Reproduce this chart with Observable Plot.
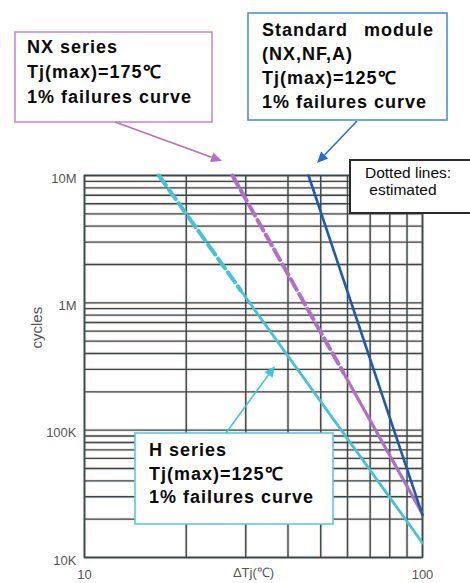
<!DOCTYPE html>
<html><head><meta charset="utf-8">
<script src="https://cdn.jsdelivr.net/npm/d3@7"></script>
<script src="https://cdn.jsdelivr.net/npm/@observablehq/plot@0.6"></script>
<style>body{margin:0;background:#fff;} #chart{width:470px;height:583px;}</style>
</head><body><div id="chart"></div>
<script>
// ---- data ----
const xTicks = [10, 100];
const xTickLabels = ["10", "100"];
const yTicks = [1e4, 1e5, 1e6, 1e7];
const yTickLabels = ["10K", "100K", "1M", "10M"];
const gridX = [10, 20, 30, 40, 50, 60, 70, 80, 90, 100];
const gridMultipliers = [1, 2, 3, 4, 5, 6, 7, 8, 9];
const gridDecades = [1e4, 1e5, 1e6];
const gridY = gridDecades.flatMap(d => gridMultipliers.map(m => d * m)).concat([1e7]);

// Standard module (NX,NF,A) Tj(max)=125℃ – solid
const stdDT = [46, 100];
const stdCycles = [1e7, 2.15e4];
// NX series Tj(max)=175℃ – estimated (dashed) and measured (solid)
const nxEstDT = [27.4, 58.3];
const nxEstCycles = [1e7, 2.84e5];
const nxDT = [58.3, 100];
const nxCycles = [2.84e5, 2.2e4];
// H series Tj(max)=125℃ – estimated (dashed) and measured (solid)
const hEstDT = [16.6, 29];
const hEstCycles = [1e7, 1.25e6];
const hDT = [29, 100];
const hCycles = [1.25e6, 1.3e4];

const cyan = "#44c2d6", purple = "#b070c8", blue = "#1d5bb0";
const gridDark = "#2b4a52", gridHalo = "#fbe3db";

const plot = Plot.plot({
  width: 470, height: 583,
  marginLeft: 84, marginRight: 48, marginTop: 175, marginBottom: 26,
  x: {type: "log", domain: [10, 100]},
  y: {type: "log", domain: [1e4, 1e7]},
  style: {fontFamily: "'Liberation Sans', Arial, sans-serif", background: "white", overflow: "visible"},
  marks: [
    Plot.ruleX(gridX, {stroke: gridHalo, strokeWidth: 3.4}),
    Plot.ruleY(gridY, {stroke: gridHalo, strokeWidth: 3.4}),
    Plot.ruleX(gridX, {stroke: gridDark, strokeWidth: 1.4}),
    Plot.ruleY(gridY, {stroke: gridDark, strokeWidth: 1.4}),
    Plot.frame({stroke: gridDark, strokeWidth: 1.5}),
    Plot.line(hEstDT, {x: hEstDT, y: hEstCycles, stroke: cyan, strokeWidth: 4, strokeDasharray: "12,5"}),
    Plot.line(hDT, {x: hDT, y: hCycles, stroke: cyan, strokeWidth: 2.8}),
    Plot.line(nxEstDT, {x: nxEstDT, y: nxEstCycles, stroke: purple, strokeWidth: 4, strokeDasharray: "12,5"}),
    Plot.line(nxDT, {x: nxDT, y: nxCycles, stroke: purple, strokeWidth: 3.2}),
    Plot.line(stdDT, {x: stdDT, y: stdCycles, stroke: blue, strokeWidth: 2.6}),
    Plot.axisX(xTicks, {tickFormat: d => xTickLabels[xTicks.indexOf(d)], tickSize: 0, tickPadding: 12,
      fontSize: 13, fill: "#555", label: "ΔTj(℃)", labelAnchor: "center", labelOffset: 19, labelArrow: "none"}),
    Plot.axisY(yTicks, {tickFormat: d => yTickLabels[yTicks.indexOf(d)], tickSize: 0, tickPadding: 8,
      fontSize: 13, fill: "#555", dy: 3, label: null}),
    Plot.text(["cycles"], {frameAnchor: "left", rotate: -90, dx: -47, dy: -18, fontSize: 15, fill: "#555"})
  ]
});
document.getElementById("chart").appendChild(plot);

// ---- annotation boxes & arrows ----
const svg = d3.select(plot);
const ann = svg.append("g").attr("font-family", "'Liberation Sans', Arial, sans-serif").attr("text-anchor", "start");
function box(x, y, w, h, stroke, sw) {
  ann.append("rect").attr("x", x).attr("y", y).attr("width", w).attr("height", h)
    .attr("fill", "white").attr("stroke", stroke).attr("stroke-width", sw);
}
function lines(x, ys, texts, size, weight, stretch) {
  texts.forEach((t, i) => ann.append("text").attr("x", x).attr("y", ys[i]).attr("font-size", size)
    .attr("font-weight", weight).attr("fill", "#0a0a0a").attr("text-anchor", "start")
    .attr("letter-spacing", stretch || 0).text(t));
}
function arrow(x1, y1, x2, y2, color) {
  const a = Math.atan2(y2 - y1, x2 - x1), L = 11, W = 5;
  const bx = x2 - L * Math.cos(a), by = y2 - L * Math.sin(a);
  ann.append("line").attr("x1", x1).attr("y1", y1).attr("x2", bx).attr("y2", by)
    .attr("stroke", color).attr("stroke-width", 1.6);
  ann.append("path").attr("fill", color).attr("d",
    `M${x2},${y2}L${bx + W * Math.sin(a)},${by - W * Math.cos(a)}L${bx - W * Math.sin(a)},${by + W * Math.cos(a)}Z`);
}
box(15, 32, 197, 90, "#c98bd2", 1.6);
lines(27, [53, 78, 103], ["NX series", "Tj(max)=175℃", "1% failures curve"], 18, "bold", 1);
box(248, 13, 199, 107, "#4a8fdc", 1.6);
lines(262, [36, 60, 84, 108], ["Standard", "(NX,NF,A)", "Tj(max)=125℃", "1% failures curve"], 18, "bold", 1);
ann.append("text").attr("x", 434).attr("y", 36).attr("text-anchor", "end").attr("font-size", 18)
  .attr("font-weight", "bold").attr("fill", "#0a0a0a").attr("letter-spacing", 1).text("module");
arrow(115, 122, 222, 161, "#b56fc6");
arrow(357, 121, 317, 163, "#2a6fcf");
box(350, 160, 130, 53, "#2a2a2a", 2);
lines(365, [178, 195], ["Dotted lines:", " estimated"], 15.5, "normal");
box(135, 433, 198, 91, "#5cc8e0", 1.6);
lines(149, [456, 480, 503], ["H series", "Tj(max)=125℃", "1% failures curve"], 18, "bold", 1);
arrow(226, 433, 275, 366, "#45c2dc");
</script></body></html>
